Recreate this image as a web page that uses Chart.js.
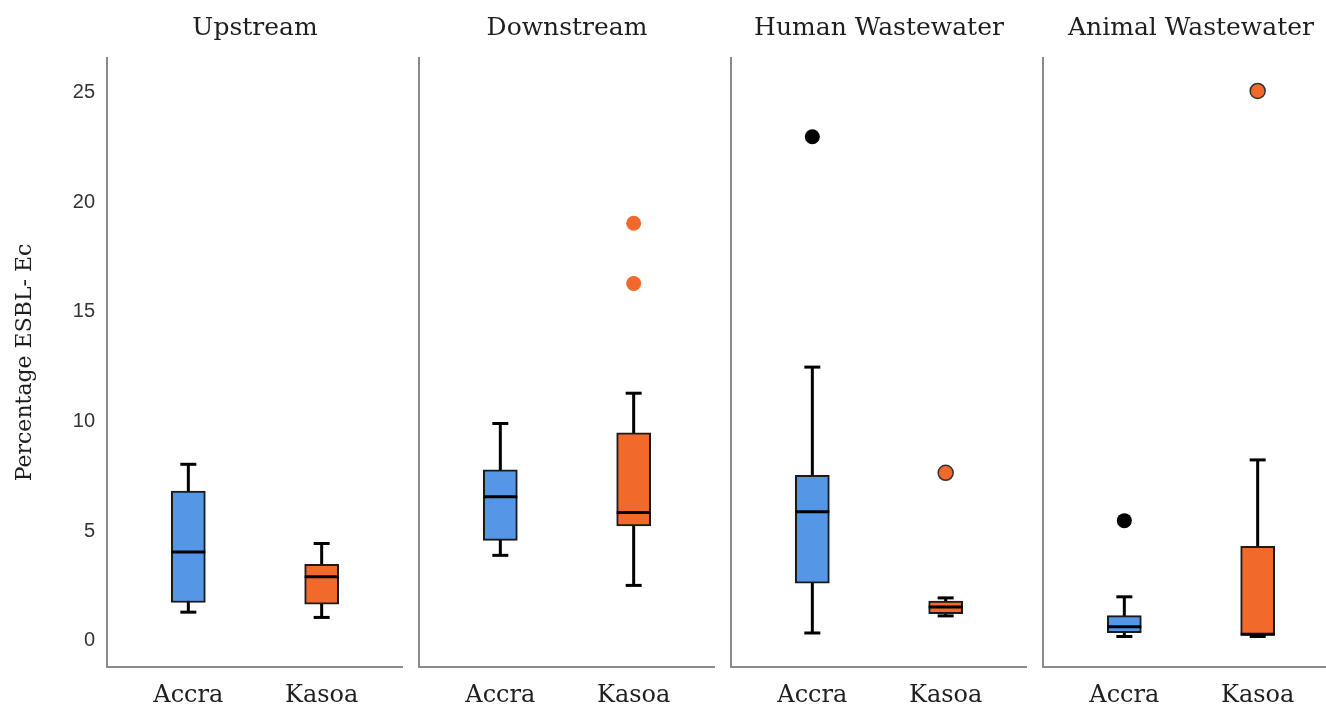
<!DOCTYPE html>
<html lang="en">
<head>
<meta charset="UTF-8">
<script src="https://cdn.jsdelivr.net/npm/chart.js"></script>
<title>ESBL-Ec boxplots</title>
<style>
    body { margin: 0; background: #fff; }
    #wrap { position: relative; width: 1326px; height: 706px; overflow: hidden; }
    .panel { position: absolute; top: 0; height: 706px; }
</style>
</head>
<body>
<div id="wrap"></div>

<script>
    // data, one entry per panel: [Accra, Kasoa]
    const panels = ['Upstream', 'Downstream', 'Human Wastewater', 'Animal Wastewater'];
    const sites = ['Accra', 'Kasoa'];
    const yTicks = [0, 5, 10, 15, 20, 25];

    const whiskerLow = [[1.31, 1.07], [3.90, 2.53], [0.36, 1.14], [0.20, 0.20]];
    const q1 = [[1.75, 1.67], [4.58, 5.24], [2.63, 1.24], [0.38, 0.26]];
    const median = [[4.05, 2.92], [6.57, 5.85], [5.89, 1.55], [0.65, 0.30]];
    const q3 = [[6.83, 3.49], [7.80, 9.48], [7.55, 1.82], [1.15, 4.31]];
    const whiskerHigh = [[8.05, 4.44], [9.91, 11.29], [12.48, 1.96], [2.01, 8.25]];
    const outliers = [
        [[], []],
        [[], [19.04, 16.29]],
        [[22.98], [7.66]],
        [[5.48], [25.07]]
    ];

    const blue = '#5596e6';
    const orange = '#f26a2b';
    const boxColors = [blue, orange];
    const outlierFill = ['#000000', orange];
    // the orange dots in "Downstream" have no outline, the later ones do
    const outlierEdge = [0, 0, 1.5, 1.5];

    const axisGray = '#8a8a8a';
    const serif = 'DejaVu Serif';

    const panelLeft = [107, 419, 731, 1043];
    const panelWidth = 296;

    function buildDatasets(p) {
        const ds = [];

        // whiskers behind the boxes
        sites.forEach((s, i) => {
            ds.push({
                type: 'line',
                data: [{ x: i + 1, y: whiskerLow[p][i] }, { x: i + 1, y: whiskerHigh[p][i] }],
                borderColor: '#000',
                borderWidth: 3,
                pointRadius: 0,
                order: 3
            });
        });

        // whisker caps
        ds.push({
            type: 'scatter',
            data: sites.flatMap((s, i) => [
                { x: i + 1, y: whiskerLow[p][i] },
                { x: i + 1, y: whiskerHigh[p][i] }
            ]),
            pointStyle: 'line',
            pointRadius: 8,
            borderColor: '#000',
            borderWidth: 3,
            order: 2
        });

        // boxes
        ds.push({
            type: 'bar',
            data: sites.map((s, i) => ({ x: i + 1, y: [q1[p][i], q3[p][i]] })),
            backgroundColor: boxColors,
            borderColor: '#1a1a1a',
            borderWidth: 2,
            borderSkipped: false,
            barThickness: 34,
            order: 1
        });

        // medians
        ds.push({
            type: 'scatter',
            data: sites.map((s, i) => ({ x: i + 1, y: median[p][i] })),
            pointStyle: 'line',
            pointRadius: 17,
            borderColor: '#000',
            borderWidth: 3,
            order: 0
        });

        // outliers
        sites.forEach((s, i) => {
            if (!outliers[p][i].length) return;
            ds.push({
                type: 'scatter',
                data: outliers[p][i].map(v => ({ x: i + 1, y: v })),
                pointRadius: 7.5,
                backgroundColor: outlierFill[i],
                borderColor: '#333',
                borderWidth: i === 0 ? 0 : outlierEdge[p],
                order: 0
            });
        });

        return ds;
    }

    const wrap = document.getElementById('wrap');

    panels.forEach((name, p) => {
        const first = p === 0;
        const axisW = first ? 107 : 4;

        const div = document.createElement('div');
        div.className = 'panel';
        div.style.left = (panelLeft[p] - axisW) + 'px';
        div.style.width = (panelWidth + axisW) + 'px';
        const canvas = document.createElement('canvas');
        div.appendChild(canvas);
        wrap.appendChild(div);

        new Chart(canvas, {
            type: 'bar',
            data: { datasets: buildDatasets(p) },
            options: {
                responsive: true,
                maintainAspectRatio: false,
                animation: false,
                events: [],
                layout: { padding: 0, autoPadding: false },
                plugins: {
                    legend: { display: false },
                    tooltip: { enabled: false },
                    title: {
                        display: true,
                        text: name,
                        fullSize: false,
                        color: '#1e1e1e',
                        font: { family: serif, size: 25, weight: 'normal', lineHeight: 1.2 },
                        padding: { top: 13, bottom: 15 }
                    }
                },
                scales: {
                    x: {
                        type: 'linear',
                        min: 0.39,
                        max: 2.61,
                        offset: false,
                        grid: { display: false, drawTicks: false },
                        border: { display: true, color: axisGray, width: 2 },
                        ticks: {
                            autoSkip: false,
                            maxRotation: 0,
                            padding: 14,
                            color: '#1e1e1e',
                            font: { family: serif, size: 24 },
                            callback: v => sites[v - 1]
                        },
                        afterBuildTicks: s => { s.ticks = sites.map((n, i) => ({ value: i + 1 })); },
                        afterFit: s => {
                            s.height = 39;
                            s.paddingLeft = 0;
                            s.paddingRight = 0;
                        }
                    },
                    y: {
                        min: -1.19,
                        max: 26.57,
                        grid: { display: false, drawTicks: false },
                        border: { display: true, color: axisGray, width: 2 },
                        ticks: {
                            display: first,
                            padding: 12,
                            color: '#333',
                            font: { family: 'Liberation Sans', size: 20 }
                        },
                        title: {
                            display: first,
                            text: 'Percentage ESBL- Ec',
                            color: '#1e1e1e',
                            font: { family: serif, size: 22 },
                            padding: { top: 12, bottom: 0 }
                        },
                        afterBuildTicks: s => { s.ticks = yTicks.map(v => ({ value: v })); },
                        afterFit: s => {
                            s.width = axisW;
                            s.paddingTop = 0;
                            s.paddingBottom = 0;
                        }
                    }
                }
            }
        });
    });
</script>
</body>
</html>
